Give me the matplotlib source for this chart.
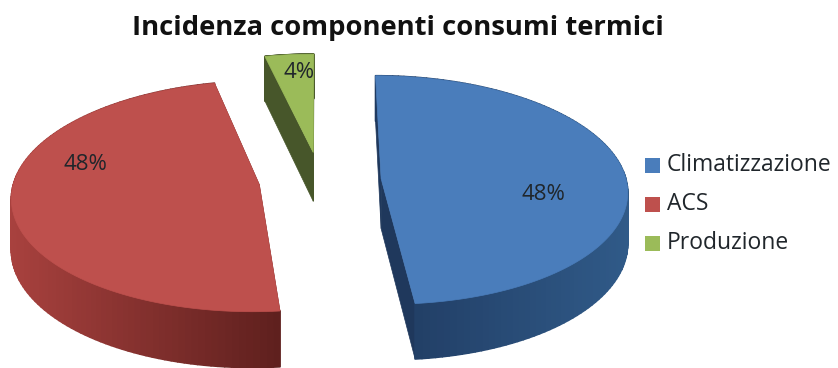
import numpy as np
import matplotlib
matplotlib.use("Agg")
import matplotlib.pyplot as plt
from matplotlib.collections import PolyCollection
from matplotlib.patches import Polygon, Rectangle

categories = ["Climatizzazione", "ACS", "Produzione"]
shares = [48.4, 48.0, 3.6]

top_colors = ["#4a7dbb", "#be504d", "#9bbb59"]
cut_colors = ["#1f385c", "#6e2523", "#47562a"]
# wall shading: colour at the left end and at the right end of the visible rim
wall_left = ["#1f3a60", "#a8413e", "#47562a"]
wall_right = ["#305a88", "#5f201e", "#47562a"]

CX, CY = 320, 180
RX, RY = 245, 113.4
PERSP = 0.10
DEPTH = 50
EXPLODE = 0.25


def project(u, v):
    # disc coordinates to pixels, far side of the pie shrinks
    s = 1 / (1 + PERSP * v)
    return CX + RX * u * s, CY - RY * v * s, DEPTH * s


def wedge_outline(start, end, n=120):
    mid = np.radians((start + end) / 2)
    ou, ov = EXPLODE * np.sin(mid), EXPLODE * np.cos(mid)
    th = np.radians(np.linspace(start, end, n))
    return ou, ov, ou + np.sin(th), ov + np.cos(th)


def mix(c1, c2, t):
    a = np.array(matplotlib.colors.to_rgb(c1))
    b = np.array(matplotlib.colors.to_rgb(c2))
    return a + (b - a) * t


def draw_wedge(ax, start, end, i):
    ou, ov, ru, rv = wedge_outline(start, end)
    ax_, ay, ad = project(ou, ov)
    x, y, d = project(ru, rv)

    # cut faces first, the top surface hides whichever faces away
    for k in (0, -1):
        quad = [(ax_, ay), (x[k], y[k]), (x[k], y[k] + d[k]), (ax_, ay + ad)]
        ax.add_patch(Polygon(quad, fc=cut_colors[i], ec=cut_colors[i], lw=0.5))

    # outer wall as thin quads so the shading can run along the rim
    quads, colors = [], []
    span = max(x.max() - x.min(), 1)
    for k in range(len(x) - 1):
        quads.append([(x[k], y[k]), (x[k + 1], y[k + 1]),
                      (x[k + 1], y[k + 1] + d[k + 1]), (x[k], y[k] + d[k])])
        colors.append(mix(wall_left[i], wall_right[i], (x[k] - x.min()) / span))
    ax.add_collection(PolyCollection(quads, facecolors=colors, edgecolors=colors, linewidths=1.2))

    top = np.vstack([[ax_, ay], np.column_stack([x, y])])
    ax.add_patch(Polygon(top, closed=True, fc=top_colors[i], ec=top_colors[i], lw=0.5))


fig = plt.figure(figsize=(8.38, 3.68), dpi=100)
ax = fig.add_axes([0, 0, 1, 1])
ax.set_xlim(0, 838)
ax.set_ylim(368, 0)
ax.axis("off")

angles = np.cumsum([0] + shares) / sum(shares) * 360
for i in (2, 1, 0):
    draw_wedge(ax, angles[i], angles[i + 1], i)

font = ["Open Sans", "DejaVu Sans"]
text_color = "#20262b"

ax.text(398, 28, "Incidenza componenti consumi termici", family=font, fontsize=19.7,
        fontweight="bold", color="#111111", ha="center", va="center")

label_pos = [(543, 195), (85, 165), (299, 72)]
for (lx, ly), val in zip(label_pos, shares):
    ax.text(lx, ly, f"{round(val)}%", family=font, fontsize=16, color=text_color,
            ha="center", va="center")

legend_y = [165, 204, 243]
for cat, col, ly in zip(categories, top_colors, legend_y):
    ax.add_patch(Rectangle((645, ly - 7), 15, 15, fc=col, ec="none"))
    ax.text(667, ly, cat, family=font, fontsize=16.5, color=text_color, ha="left", va="center")

fig.savefig("out.png", dpi=100)
